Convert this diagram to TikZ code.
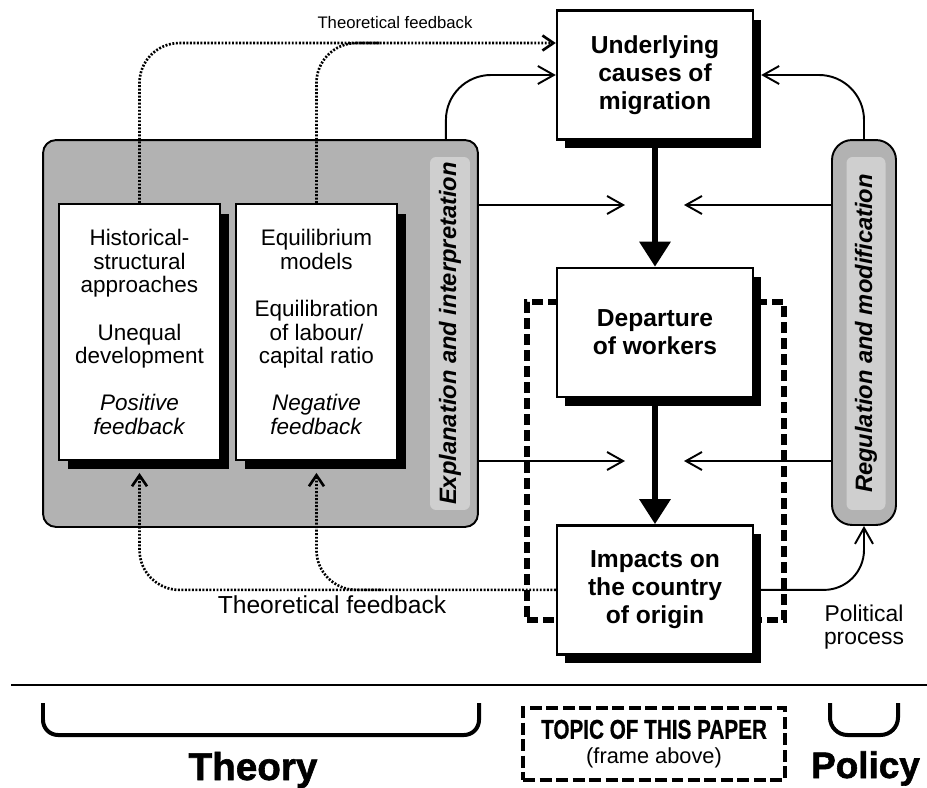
\documentclass[tikz,border=0pt]{standalone}
\usepackage{fontspec}
\setmainfont{Liberation Sans}
\newfontfamily\heavyfont{Liberation Sans Bold}[FakeBold=1.6]
\newfontfamily\condfont{Liberation Sans Bold}[FakeStretch=0.76,FakeBold=0.6]
\usetikzlibrary{positioning,arrows.meta,shadows}

\begin{document}
\begin{tikzpicture}[x=0.02cm,y=-0.02cm,node distance=1.0cm,on grid,
		mainbox/.style={draw, line width=1.4pt, fill=white, align=center, minimum width=39.2mm, minimum height=25.8mm,
			font=\fontsize{14}{16}\selectfont\bfseries,
			drop shadow={shadow xshift=1.6mm, shadow yshift=-1.8mm, fill=black, opacity=1}},
		theorybox/.style={draw, line width=1.1pt, fill=white, align=center, minimum width=32.2mm, minimum height=51.2mm,
			font=\fontsize{12.8}{13.4}\selectfont,
			drop shadow={shadow xshift=1.8mm, shadow yshift=-1.9mm, fill=black, opacity=1}},
		panel/.style={draw, line width=1.1pt, fill=black!30, rounded corners=2.6mm},
		strip/.style={fill=black!19, rounded corners=1.2mm, rotate=90, minimum width=70.6mm, minimum height=8mm, inner sep=0pt,
			font=\fontsize{13.5}{16}\selectfont\bfseries\itshape},
		topicframe/.style={draw, line width=1.25mm, dash pattern=on 2.2mm off 1mm},
		flow/.style={line width=1.1pt, -{Straight Barb[length=3.2mm,width=3.6mm]}},
		push/.style={line width=1.2mm, -{Triangle[width=6mm,length=5mm]}},
		feedback/.style={line width=1.5pt, dash pattern=on 1.1pt off 0.9pt, -{Straight Barb[length=2.2mm,width=3mm]}},
		brace/.style={line width=0.8mm, rounded corners=3mm}
	]
	\useasboundingbox (0,0) rectangle (927,788);
	
	% panels of theory and policy
	\node[panel, minimum width=87mm, minimum height=77.4mm] (p_theory) at (260.5,333.5) {};
	\node[strip] (s_theory) at (450,333.5) {Explanation and interpretation};
	\node[panel, rounded corners=4mm, minimum width=12.8mm, minimum height=77mm] (p_policy) at (864,332.5) {};
	\node[strip, minimum height=7.8mm] (s_policy) at (866,333.5) {Regulation and modification};
	
	\node[topicframe, minimum width=51.4mm, minimum height=63.6mm] (f_topic) at (655.5,461) {};
	
	% main column
	\node[mainbox] (m_cause) at (655,75) {Underlying\\causes of\\migration};
	\node[mainbox] (m_depart) [below=51.5mm of m_cause] {Departure\\of workers};
	\node[mainbox] (m_impact) [below=51.5mm of m_depart] {Impacts on\\the country\\of origin};
	
	\node[theorybox] (t_hist) at (139.5,332) {Historical-\\structural\\approaches\\[13.4pt]Unequal\\development\\[13.4pt]\textit{Positive}\\\textit{feedback}};
	\node[theorybox] (t_equil) [right=35.4mm of t_hist] {Equilibrium\\models\\[13.4pt]Equilibration\\of labour/\\capital ratio\\[13.4pt]\textit{Negative}\\\textit{feedback}};
	
	\coordinate (in_1l) at (625,205);
	\coordinate (in_1r) at (684,205);
	\coordinate (in_2l) at (625,461);
	\coordinate (in_2r) at (684,461);
	\coordinate (fb_up) at ([yshift=6.4mm]m_cause.west);
	
	\draw[push] (m_cause.south) -- (m_depart.north);
	\draw[push] (m_depart.south) -- (m_impact.north);
	
	\draw[flow] (p_theory.east |- in_1l) -- (in_1l);
	\draw[flow] (p_theory.east |- in_2l) -- (in_2l);
	\draw[flow] (p_policy.west |- in_1r) -- (in_1r);
	\draw[flow] (p_policy.west |- in_2r) -- (in_2r);
	
	\draw[flow, rounded corners=9mm] ([xshift=-6.6mm]p_theory.north east) |- (m_cause.west);
	\draw[flow, rounded corners=9mm] (p_policy.north) |- ([xshift=1.4mm]m_cause.east);
	\draw[flow, rounded corners=8mm] ([xshift=1.4mm]m_impact.east) -| (p_policy.south);
	
	% theoretical feedback
	\draw[feedback, rounded corners=8mm] (t_hist.north) |- (fb_up);
	\draw[feedback, -, rounded corners=8mm] (t_equil.north) |- ([xshift=-35mm]fb_up);
	\draw[feedback, rounded corners=8mm] (m_impact.west) -| ([yshift=-2.4mm]t_hist.south);
	\draw[feedback, rounded corners=8mm] ([xshift=-35mm]m_impact.west) -| ([yshift=-2.4mm]t_equil.south);
	
	\node[anchor=base, font=\fontsize{9.5}{11}\selectfont] (l_fbtop) at (395,28) {Theoretical feedback};
	\node[anchor=base, font=\fontsize{14}{16}\selectfont] (l_fbbot) at (332,613) {Theoretical feedback};
	\node[align=center, font=\fontsize{13}{13.5}\selectfont] (l_polit) at (864,627) {Political\\process};
	
	% legend below the line
	\draw[line width=1.1pt] (11,685) -- (927,685);
	\draw[brace] (43,703) -- (43,735) -- (479,735) -- (479,703);
	\draw[brace, rounded corners=3.5mm] (830,703) -- (830,735) -- (898,735) -- (898,703);
	\node[anchor=base, font=\fontsize{22}{24}\selectfont\heavyfont] (l_theory) at (253,780) {Theory};
	\node[anchor=base, font=\fontsize{21}{24}\selectfont\heavyfont] (l_policy) at (865.5,778) {Policy};
	\node[topicframe, line width=0.95mm, dash pattern=on 2.4mm off 0.9mm, minimum width=52.4mm, minimum height=14.4mm, align=center,
		font=\fontsize{12.4}{14.2}\selectfont] (f_legend) at (654,744) {{\condfont\fontsize{15.5}{14.2}\selectfont TOPIC OF THIS PAPER}\\(frame above)};
\end{tikzpicture}
\end{document}
